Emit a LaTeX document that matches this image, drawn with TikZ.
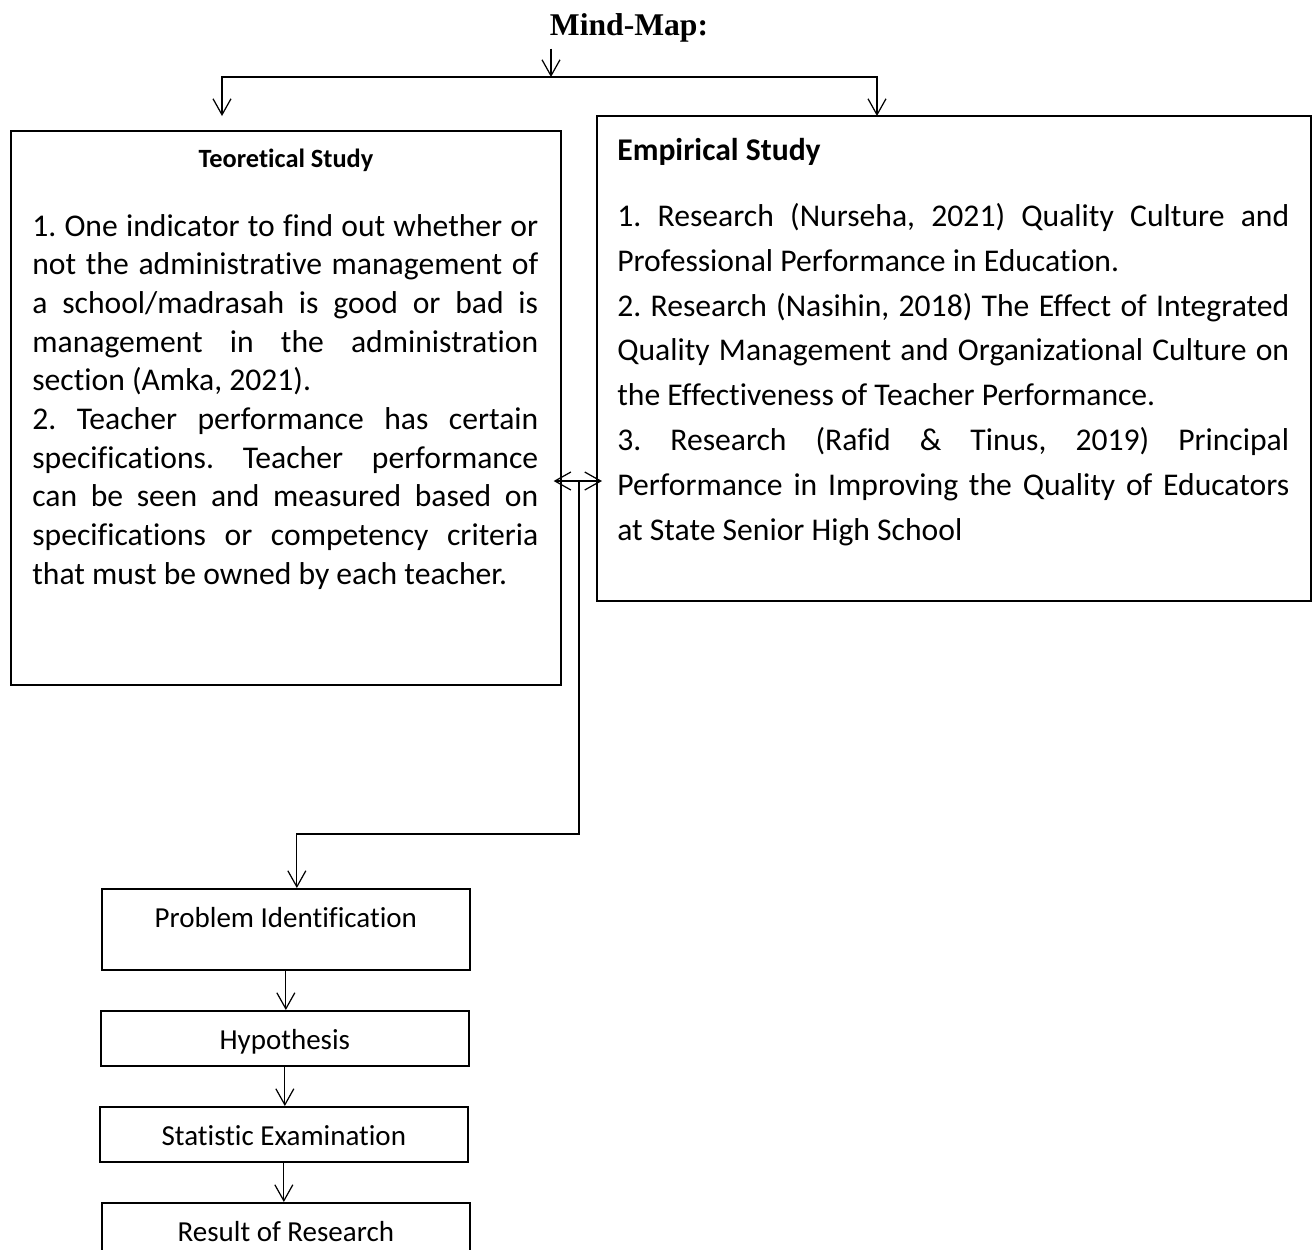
\documentclass[tikz,border=0pt]{standalone}
\usepackage{fontspec}
\setmainfont{Carlito}[Ligatures={NoCommon}]
\newfontfamily\titlefont{Liberation Serif}
\usetikzlibrary{positioning}
\usetikzlibrary{arrows.meta}
\setlength{\parindent}{0pt}
\frenchspacing

\tikzset{
  box/.style={draw, line width=1pt, inner sep=0pt, anchor=north west},
  stepbox/.style={draw, line width=1pt, inner xsep=0pt, inner ysep=0pt, minimum width=7.36cm,
    anchor=north west, text height=0.78cm, text depth=0.32cm, font=\fontsize{16.5}{20}\selectfont},
  link/.style={line width=0.7pt, -{Straight Barb[length=0.32cm,width=0.36cm]}},
  both/.style={line width=0.7pt, {Straight Barb[length=0.32cm,width=0.36cm]}-{Straight Barb[length=0.32cm,width=0.36cm]}},
  bodytext/.style={anchor=north west, inner sep=0pt, align=justify},
}

\begin{document}
\begin{tikzpicture}[x=0.02cm, y=-0.02cm]
  \useasboundingbox (0,0) rectangle (1316,1249);
  \clip (0,0) rectangle (1316,1249);

  \node (title) at (629,28) {\titlefont\bfseries\fontsize{18}{22}\selectfont Mind-Map:};

  % the two study boxes
  \node[box, minimum width=11cm, minimum height=11.08cm] (teo) at (10,130) {};
  \node[box, minimum width=14.28cm, minimum height=9.7cm] (emp) at (596,115) {};

  \node[font=\bfseries\fontsize{15}{18}\selectfont] (teohead) at (286,160) {Teoretical Study};
  \node[anchor=west, inner sep=0pt, font=\bfseries\fontsize{18}{22}\selectfont] (emphead) at (617,152) {Empirical Study};

  \node[bodytext, text width=10.12cm, font=\fontsize{18}{22}\selectfont] (teotext) at (32,214)
    {1. One indicator to find out whether or\linebreak
     not the administrative management of\linebreak
     a school/madrasah is good or bad is\linebreak
     management in the administration\linebreak
     section (Amka, 2021).\par
     2. Teacher performance has certain\linebreak
     specifications. Teacher performance\linebreak
     can be seen and measured based on\linebreak
     specifications or competency criteria\linebreak
     that must be owned by each teacher.};

  \node[bodytext, text width=13.44cm, font=\fontsize{18}{25.5}\selectfont] (emptext) at (617,203)
    {1. Research (Nurseha, 2021) Quality Culture and\linebreak
     Professional Performance in Education.\par
     2. Research (Nasihin, 2018) The Effect of Integrated\linebreak
     Quality Management and Organizational Culture on\linebreak
     the Effectiveness of Teacher Performance.\par
     3. Research (Rafid \& Tinus, 2019) Principal\linebreak
     Performance in Improving the Quality of Educators\linebreak
     at State Senior High School};

  % research steps
  \node[stepbox, text depth=0.84cm] (problem) at (101,888) {Problem Identification};
  \node[stepbox] (hypo) at (100,1010) {Hypothesis};
  \node[stepbox] (stat) at (99,1106) {Statistic Examination};
  \node[stepbox] (result) at (101,1202) {Result of Research};

  \coordinate (fork) at (551,77);
  \coordinate (tleft) at (222,116);
  \coordinate (tright) at (877,116);
  \coordinate (mid) at (579,481);
  \coordinate (bend) at (579,834);

  \draw[link] (fork |- title.south) -- (fork);
  \draw[link] (fork) -| (tleft);
  \draw[link] (fork) -| (tright);

  \draw[both] ([xshift=-0.16cm]teo.east |- mid) -- ([xshift=0.12cm]emp.west |- mid);
  \draw[link] (mid) -- (bend) -| ([xshift=0.22cm]problem.north);

  \draw[link] (problem.south) -- (problem.south |- hypo.north);
  \draw[link] (hypo.south) -- (hypo.south |- stat.north);
  \draw[link] (stat.south) -- (stat.south |- result.north);
\end{tikzpicture}
\end{document}
